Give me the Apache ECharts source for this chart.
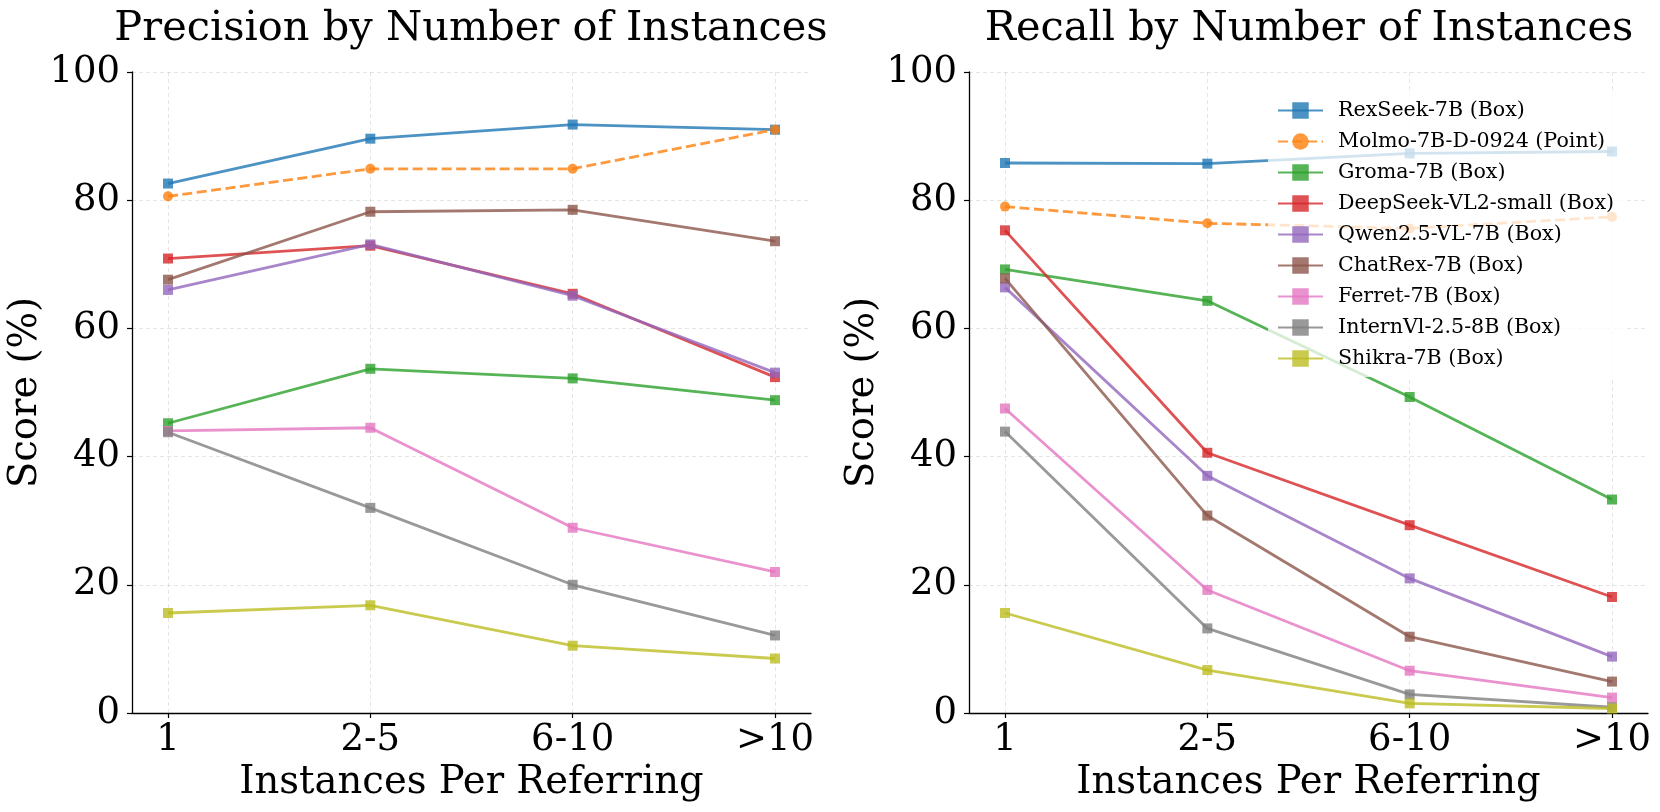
<!DOCTYPE html>
<html>
<head>
<meta charset="utf-8">
<script src="https://cdn.jsdelivr.net/npm/echarts@6/dist/echarts.min.js"></script>
<style>html,body{margin:0;padding:0;background:#fff;}#c{width:1660px;height:812px;}</style>
</head>
<body>
<div id="c"></div>
<script>
const categories = ['1', '2-5', '6-10', '>10'];
const modelNames = ['RexSeek-7B (Box)', 'Molmo-7B-D-0924 (Point)', 'Groma-7B (Box)', 'DeepSeek-VL2-small (Box)', 'Qwen2.5-VL-7B (Box)', 'ChatRex-7B (Box)', 'Ferret-7B (Box)', 'InternVl-2.5-8B (Box)', 'Shikra-7B (Box)'];
const colors = ['#1f77b4', '#ff7f0e', '#2ca02c', '#d62728', '#9467bd', '#8c564b', '#e377c2', '#7f7f7f', '#bcbd22'];

// Precision values
const precRexSeek  = [82.6, 89.6, 91.8, 91.0];
const precMolmo    = [80.6, 84.9, 84.9, 91.0];
const precGroma    = [45.2, 53.7, 52.2, 48.8];
const precDeepSeek = [70.9, 72.9, 65.4, 52.4];
const precQwen     = [66.0, 73.1, 65.1, 53.1];
const precChatRex  = [67.6, 78.2, 78.5, 73.6];
const precFerret   = [44.0, 44.5, 28.9, 22.0];
const precInternVl = [43.8, 32.0, 20.0, 12.1];
const precShikra   = [15.6, 16.8, 10.5, 8.5];

// Recall values
const recRexSeek  = [85.8, 85.7, 87.3, 87.6];
const recMolmo    = [79.0, 76.4, 75.6, 77.4];
const recGroma    = [69.2, 64.3, 49.3, 33.3];
const recDeepSeek = [75.3, 40.6, 29.3, 18.1];
const recQwen     = [66.4, 37.0, 21.0, 8.8];
const recChatRex  = [67.8, 30.8, 11.9, 4.9];
const recFerret   = [47.5, 19.2, 6.6, 2.4];
const recInternVl = [43.9, 13.2, 2.9, 0.9];
const recShikra   = [15.6, 6.7, 1.5, 0.7];

const yTicks = [0, 20, 40, 60, 80, 100];

const precision = [precRexSeek, precMolmo, precGroma, precDeepSeek, precQwen, precChatRex, precFerret, precInternVl, precShikra];
const recall = [recRexSeek, recMolmo, recGroma, recDeepSeek, recQwen, recChatRex, recFerret, recInternVl, recShikra];

const FONT = 'DejaVu Serif';
const chart = echarts.init(document.getElementById('c'), null, {renderer: 'canvas'});

function xAxis(gi) {
  return {
    type: 'value', gridIndex: gi, min: -0.178, max: 3.178,
    name: 'Instances Per Referring', nameLocation: 'middle', nameGap: 48,
    nameTextStyle: {fontFamily: FONT, fontSize: 38.5, color: '#000'},
    axisLine: {show: true, onZero: false, lineStyle: {color: '#000', width: 1.3}},
    axisTick: {show: true, inside: false, length: 5, lineStyle: {color: '#000', width: 1.2}, customValues: [0, 1, 2, 3]},
    axisLabel: {customValues: [0, 1, 2, 3], margin: 9, fontFamily: FONT, fontSize: 37, color: '#000',
      formatter: v => categories[Math.round(v)] || ''},
    splitLine: {show: false}
  };
}
function yAxis(gi) {
  return {
    type: 'value', gridIndex: gi, min: 0, max: 100, interval: 20,
    name: 'Score (%)', nameLocation: 'middle', nameGap: 78, nameRotate: 90,
    nameTextStyle: {fontFamily: FONT, fontSize: 38.5, color: '#000'},
    axisLine: {show: true, onZero: false, lineStyle: {color: '#000', width: 1.3}},
    axisTick: {show: true, inside: false, length: 5, lineStyle: {color: '#000', width: 1.2}},
    axisLabel: {margin: 12, fontFamily: FONT, fontSize: 37, color: '#000',
      formatter: v => yTicks.includes(v) ? String(v) : ''},
    splitLine: {show: true, lineStyle: {color: 'rgba(0,0,0,0.1)', type: [4, 3], width: 1}}
  };
}

const series = [];
function addSeries(arr, gi) {
  arr.forEach((vals, i) => {
    const dashed = i === 1;
    series.push({
      name: modelNames[i], type: 'line', xAxisIndex: gi, yAxisIndex: gi,
      data: vals.map((v, k) => [k, v]),
      symbol: dashed ? 'circle' : 'rect', symbolSize: 10,
      showSymbol: true,
      lineStyle: {color: colors[i], width: 2.8, opacity: 0.8, type: dashed ? [10, 4.5] : 'solid'},
      itemStyle: {color: colors[i], opacity: 0.8},
      emphasis: {disabled: true},
      animation: false, z: 3,
      markLine: i === 0 ? {
        silent: true, symbol: 'none', label: {show: false},
        lineStyle: {color: 'rgba(0,0,0,0.1)', type: [4, 3], width: 1},
        data: [0, 1, 2, 3].map(x => ({xAxis: x})), z: 1, animation: false
      } : undefined
    });
  });
}
addSeries(precision, 0);
addSeries(recall, 1);

chart.setOption({
  backgroundColor: '#fff',
  animation: false,
  title: [
    {text: 'Precision by Number of Instances', left: 471, top: 8, textAlign: 'center', padding: 0,
      textStyle: {fontFamily: FONT, fontSize: 41.5, fontWeight: 'normal', color: '#000'}},
    {text: 'Recall by Number of Instances', left: 1309, top: 8, textAlign: 'center', padding: 0,
      textStyle: {fontFamily: FONT, fontSize: 41.5, fontWeight: 'normal', color: '#000'}}
  ],
  grid: [
    {left: 132, right: 849, top: 72, bottom: 99, containLabel: false},
    {left: 969, right: 12, top: 72, bottom: 99, containLabel: false}
  ],
  xAxis: [xAxis(0), xAxis(1)],
  yAxis: [yAxis(0), yAxis(1)],
  legend: {
    data: modelNames, orient: 'vertical', left: 1268, top: 92, z: 10,
    backgroundColor: 'rgba(255,255,255,0.75)', padding: [8, 12, 8, 9],
    itemWidth: 45, itemHeight: 20.6, itemGap: 10,
    textStyle: {fontFamily: FONT, fontSize: 20.6, color: '#000', lineHeight: 20.6, padding: [0, 0, 0, 10]},
    selectedMode: false
  },
  series: series
});
</script>
</body>
</html>
